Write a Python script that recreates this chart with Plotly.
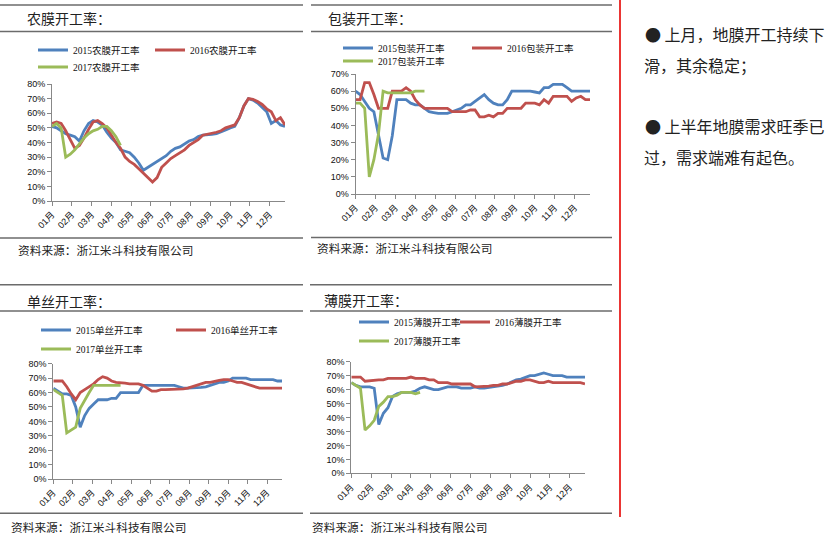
import plotly.graph_objects as go

W, H = 833, 537

MONTH_LABELS = ["01月", "02月", "03月", "04月", "05月", "06月",
                "07月", "08月", "09月", "10月", "11月", "12月"]
YEARS = ["2015", "2016", "2017"]

# 农膜开工率 (weekly, %)
NM_2015 = [51, 50, 48, 46, 45, 44, 41, 48, 53, 55, 54, 52, 47, 43, 40, 35, 34, 33, 30, 26,
           21, 23, 25, 27, 29, 31, 34, 36, 37, 39, 41, 42, 44, 45, 45, 45.5, 46, 47, 48.5, 50,
           51, 57, 65, 70, 69, 67, 64, 61, 53, 55, 52, 51]
NM_2016 = [53, 54, 53, 48, 42, 36, 38, 43, 49, 54, 55, 53, 50, 45, 40, 36, 30, 27, 25, 22,
           19, 16, 13, 16, 23, 26, 29, 31, 33, 35, 38, 40, 42, 45, 45.5, 46, 47, 48, 50, 51,
           52, 57, 65, 70, 69.5, 68, 66, 63, 61, 55, 57, 52]
NM_2017 = [51, 53, 50, 30, 32, 35, 39, 43, 46, 48, 49, 51, 51, 48, 44, 38]

# 包装开工率
BZ_2015 = [60, 58, 54, 50, 48, 35, 21, 20, 34, 55, 55, 55, 53, 52, 52, 50, 48, 47.5, 47, 47,
           47, 48, 49, 50, 52, 52, 54, 56, 58, 55, 53, 52, 52, 55, 60, 60, 60, 60, 60, 59.5,
           59, 62, 62, 64, 64, 64, 62, 60, 60, 60, 60, 60]
BZ_2016 = [55, 55, 65, 65, 58, 50, 50, 50, 60, 60, 60, 62, 60, 55, 52, 50, 50, 50, 50, 50,
           50, 48, 48, 48, 48, 49, 49, 45, 45, 46, 45, 47, 47, 50, 50, 50, 50, 53, 53, 53,
           52, 55, 53, 57, 57, 57, 57, 54, 56, 57, 55, 55]
BZ_2017 = [53, 53, 50, 10, 20, 35, 60, 59, 59, 59, 59, 59, 59, 60, 60, 60]

# 单丝开工率
DS_2015 = [63, 61, 59, 59, 58, 50, 36, 44, 49, 52, 55, 55, 55, 56, 56, 60, 60, 60, 60, 60,
           65, 65, 65, 65, 65, 65, 65, 65, 64, 63, 63, 63, 63, 63.5, 64, 65, 66, 67, 67, 68,
           70, 70, 70, 70, 69, 69, 69, 69, 69, 69, 68, 68]
DS_2016 = [68, 68, 68, 64, 59, 55, 60, 62, 64, 66, 69, 71, 70, 68, 67, 67, 66.5, 66, 66, 66,
           65, 63, 61, 61, 62, 62, 62, 62, 62, 62.5, 63, 64, 65, 66, 67, 67, 68, 68.5, 69, 69,
           68, 67, 67, 66, 65, 64, 63, 63, 63, 63, 63, 63]
DS_2017 = [62, 60, 58, 32, 34, 36, 49, 55, 60, 65, 65, 65, 65, 65, 65, 65]

# 薄膜开工率
BM_2015 = [65, 63, 62, 62, 62, 61, 35, 43, 47, 55, 57, 58, 58, 58, 59, 61, 62, 61, 60, 60,
           61, 62, 62, 62, 61, 61, 61, 62, 61, 61, 61.5, 62, 62, 63, 64, 65.5, 67, 67.5, 69, 70,
           70, 71, 72, 71, 70, 70, 70, 69, 69, 69, 69, 69]
BM_2016 = [69, 69, 69, 66, 66.5, 67, 67, 67, 68, 68, 68, 68, 68, 69, 68, 68, 68, 67, 67, 65,
           65, 65, 64, 64, 64, 64, 64, 62, 62, 62, 62.5, 63, 63, 64, 64, 65, 66, 66, 67, 67,
           66, 65, 65, 66, 65, 65, 65, 65, 65, 65, 65, 64]
BM_2017 = [65, 63, 61, 31, 34, 38, 48, 51, 55, 55, 56, 58, 58, 58, 57, 58]

COLORS = ["#4F81BD", "#C0504D", "#9BBB59"]

CJK = "Noto Sans CJK SC"
SANS = "Liberation Sans, Arial, " + CJK
SERIF = "Liberation Serif, " + CJK


def fx(px):
    return px / W


def fy(py):
    return 1 - py / H


panels = [
    dict(name="农膜", series=[NM_2015, NM_2016, NM_2017], ymax=80,
         dx=(52, 285), dy=(84, 201),
         title=(25, 18), source=(16, 249),
         leg=[(33, 50), (150, 50), (33, 67)],
         box=(0, 303, 5, 31.5, 238)),
    dict(name="包装", series=[BZ_2015, BZ_2016, BZ_2017], ymax=70,
         dx=(355.5, 590), dy=(74, 194),
         title=(326, 18), source=(315, 248),
         leg=[(338, 48), (467, 48), (338, 61)],
         box=(311, 612, 5, 31.5, 237.5)),
    dict(name="单丝", series=[DS_2015, DS_2016, DS_2017], ymax=80,
         dx=(53.3, 282), dy=(363.7, 479),
         title=(25, 301), source=(9, 526),
         leg=[(36, 330), (171, 330), (36, 349)],
         box=(0, 303, 284.7, 311, 513.3)),
    dict(name="薄膜", series=[BM_2015, BM_2016, BM_2017], ymax=80,
         dx=(351.3, 585), dy=(361.7, 473.3),
         title=(322, 300), source=(310, 526),
         leg=[(354, 322), (455, 322), (354, 341)],
         box=(310, 612, 284.7, 311, 513.3)),
]

fig = go.Figure()
layout = dict(
    width=W, height=H,
    margin=dict(l=0, r=0, t=0, b=0, pad=0, autoexpand=False),
    paper_bgcolor="white", plot_bgcolor="white",
    showlegend=True,
)
annotations = []
shapes = []

tickvals = [k * 52 / 12 for k in range(12)]
leg_index = 0
for p_i, p in enumerate(panels):
    n = p_i + 1
    xa = "x" if n == 1 else "x%d" % n
    ya = "y" if n == 1 else "y%d" % n
    xkey = "xaxis" if n == 1 else "xaxis%d" % n
    ykey = "yaxis" if n == 1 else "yaxis%d" % n

    for s_i, vals in enumerate(p["series"]):
        leg_index += 1
        lid = "legend" if leg_index == 1 else "legend%d" % leg_index
        fig.add_trace(go.Scatter(
            x=list(range(len(vals))), y=vals, mode="lines",
            name=YEARS[s_i] + p["name"] + "开工率",
            line=dict(color=COLORS[s_i], width=2.8),
            xaxis=xa, yaxis=ya, legend=lid, hoverinfo="skip",
        ))
        lx, ly = p["leg"][s_i]
        layout[lid] = dict(
            x=fx(lx), y=fy(ly), xanchor="left", yanchor="middle",
            orientation="h", bgcolor="rgba(0,0,0,0)", borderwidth=0,
            font=dict(family=SERIF, size=9.5, color="#111"),
            itemwidth=30, tracegroupgap=0,
        )

    layout[xkey] = dict(
        domain=[fx(p["dx"][0]), fx(p["dx"][1])],
        anchor=ya, range=[0, 51],
        tickmode="array", tickvals=tickvals, ticktext=MONTH_LABELS,
        tickangle=-45, ticks="outside", ticklen=4, tickcolor="#888",
        showline=True, linecolor="#888", linewidth=1,
        showgrid=False, zeroline=False, automargin=False,
        tickfont=dict(family=SANS, size=9, color="#111"),
        fixedrange=True,
    )
    layout[ykey] = dict(
        domain=[fy(p["dy"][1]), fy(p["dy"][0])],
        anchor=xa, range=[0, p["ymax"]], dtick=10, tick0=0,
        ticksuffix="%", ticks="outside", ticklen=4, tickcolor="#888",
        showline=True, linecolor="#888", linewidth=1,
        showgrid=False, zeroline=False, automargin=False,
        tickfont=dict(family=SANS, size=9, color="#111"),
        fixedrange=True,
    )

    # panel title and source
    annotations.append(dict(
        x=fx(p["title"][0]), y=fy(p["title"][1]), xref="paper", yref="paper",
        xanchor="left", yanchor="middle", showarrow=False,
        text=p["name"] + "开工率：", font=dict(family=CJK, size=14, color="#222"),
    ))
    annotations.append(dict(
        x=fx(p["source"][0]), y=fy(p["source"][1]), xref="paper", yref="paper",
        xanchor="left", yanchor="middle", showarrow=False,
        text="资料来源：浙江米斗科技有限公司", font=dict(family=CJK, size=11.7, color="#222"),
    ))
    x0, x1, ytop, yund, ybot = p["box"]
    for yy in (ytop, yund, ybot):
        shapes.append(dict(
            type="line", xref="paper", yref="paper",
            x0=fx(x0), x1=fx(x1), y0=fy(yy), y1=fy(yy),
            line=dict(color="#6b6b6b", width=1.6),
        ))

# right commentary
RIGHT_LINES = [("● 上月，地膜开工持续下", 643, 34),
               ("滑，其余稳定；", 642, 65),
               ("● 上半年地膜需求旺季已", 643, 126),
               ("过，需求端难有起色。", 642, 157)]
for txt, x, y in RIGHT_LINES:
    annotations.append(dict(
        x=fx(x), y=fy(y), xref="paper", yref="paper",
        xanchor="left", yanchor="middle", showarrow=False,
        text=txt, font=dict(family=CJK, size=16, color="#222"),
    ))

shapes.append(dict(
    type="line", xref="paper", yref="paper",
    x0=fx(620), x1=fx(620), y0=fy(0), y1=fy(517),
    line=dict(color="#E8201E", width=1.8),
))

layout["annotations"] = annotations
layout["shapes"] = shapes
fig.update_layout(**layout)

fig.write_html(
    "out.html",
    config={"displayModeBar": False},
    post_script="document.body.style.margin='0';document.body.style.overflow='hidden';",
)
